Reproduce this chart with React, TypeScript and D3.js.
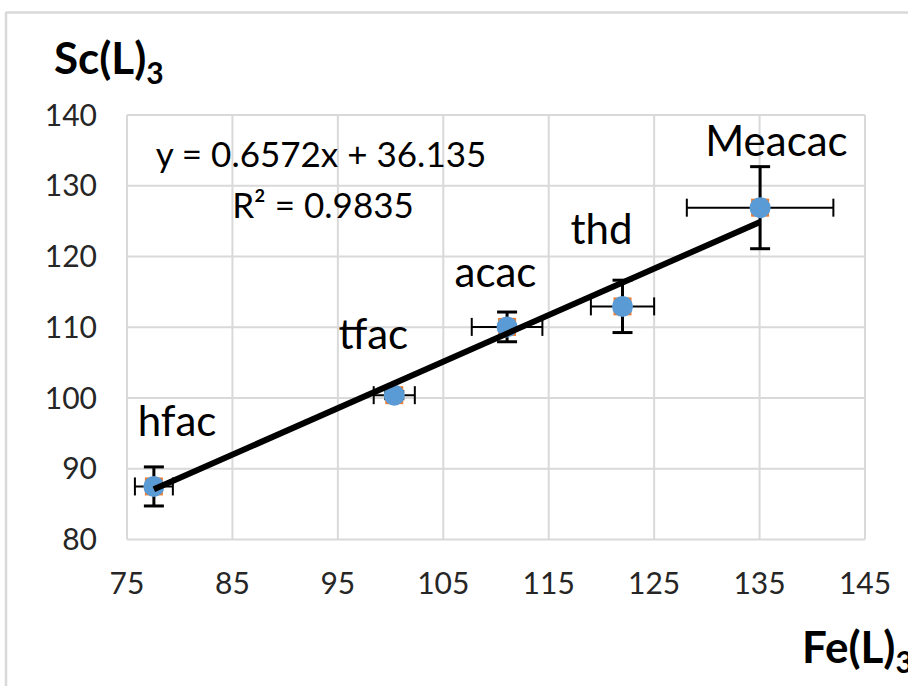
import React from "react";
import * as d3 from "d3";

const names = ["hfac", "tfac", "acac", "thd", "Meacac"];
const feValues = [77.55, 100.35, 111.05, 122.0, 135.05];
const scValues = [87.5, 100.4, 110.05, 112.95, 126.9];
const feErrors = [1.8, 1.95, 3.35, 3.0, 6.95];
const scErrors = [2.76, 0.5, 2.1, 3.7, 5.8];
// label anchor positions in data units (centre x, baseline y)
const labelFe = [79.75, 98.36, 109.95, 120.0, 136.6];
const labelSc = [94.57, 106.87, 115.64, 121.73, 134.17];
const xTicks = [75, 85, 95, 105, 115, 125, 135, 145];
const yTicks = [80, 90, 100, 110, 120, 130, 140];
const slope = 0.6572;
const intercept = 36.135;
const eqText = "y = 0.6572x + 36.135";
const r2Value = "0.9835";

const W = 908;
const H = 686;
const FONT = "Lato, 'Open Sans', sans-serif";

export default function App() {
  const x = d3.scaleLinear().domain([75, 145]).range([127, 865]);
  const y = d3.scaleLinear().domain([80, 140]).range([539.5, 115]);
  const grid = "#d9d9d9";
  const xMin = d3.min(feValues) as number;
  const xMax = d3.max(feValues) as number;
  const trend = d3.line<number>().x((v) => x(v)).y((v) => y(slope * v + intercept));

  return (
    <svg width={W} height={H} style={{ position: "absolute", left: 0, top: 0, background: "#fff" }}>
      <rect x={0} y={0} width={W} height={H} fill="#fff" />
      {/* outer chart border */}
      <line x1={6} y1={12.5} x2={W} y2={12.5} stroke={grid} strokeWidth={2.5} />
      <line x1={6} y1={12} x2={6} y2={H} stroke={grid} strokeWidth={2.5} />

      {/* gridlines */}
      {xTicks.map((t) => (
        <line key={"gx" + t} x1={x(t)} x2={x(t)} y1={y(140)} y2={y(80)} stroke={grid} strokeWidth={2} />
      ))}
      {yTicks.map((t) => (
        <line key={"gy" + t} x1={x(75)} x2={x(145)} y1={y(t)} y2={y(t)} stroke={grid} strokeWidth={2} />
      ))}

      {/* tick labels */}
      {yTicks.map((t) => (
        <text key={"ty" + t} x={97} y={y(t) + 10.5} textAnchor="end" fontFamily={FONT} fontSize={30} fill="#262626">
          {t}
        </text>
      ))}
      {xTicks.map((t) => (
        <text key={"tx" + t} x={x(t)} y={594} textAnchor="middle" fontFamily={FONT} fontSize={30} fill="#262626">
          {t}
        </text>
      ))}

      {/* error bars */}
      {feValues.map((fv, i) => {
        const cx = x(fv);
        const cy = y(scValues[i]);
        const x0 = x(fv - feErrors[i]);
        const x1 = x(fv + feErrors[i]);
        const y0 = y(scValues[i] - scErrors[i]);
        const y1 = y(scValues[i] + scErrors[i]);
        return (
          <g key={"e" + i} stroke="#000">
            <line x1={x0} x2={x1} y1={cy} y2={cy} strokeWidth={2} />
            <line x1={x0} x2={x0} y1={cy - 9} y2={cy + 9} strokeWidth={2} />
            <line x1={x1} x2={x1} y1={cy - 9} y2={cy + 9} strokeWidth={2} />
            <line x1={cx} x2={cx} y1={y0} y2={y1} strokeWidth={3} />
            <line x1={cx - 10} x2={cx + 10} y1={y0} y2={y0} strokeWidth={3} />
            <line x1={cx - 10} x2={cx + 10} y1={y1} y2={y1} strokeWidth={3} />
          </g>
        );
      })}

      {/* markers */}
      {feValues.map((fv, i) => (
        <g key={"m" + i}>
          <rect x={x(fv) - 9} y={y(scValues[i]) - 9} width={18} height={18} fill="#ED7D31" />
          <circle cx={x(fv)} cy={y(scValues[i])} r={10.5} fill="#5B9BD5" />
        </g>
      ))}

      {/* trendline */}
      <path d={trend([xMin, xMax]) || ""} stroke="#000" strokeWidth={6} fill="none" />

      {/* data labels */}
      {names.map((n, i) => (
        <text key={"l" + n} x={x(labelFe[i])} y={y(labelSc[i])} textAnchor="middle" fontFamily={FONT} fontSize={42} fill="#000">
          {n}
        </text>
      ))}

      {/* equation */}
      <text x={321} y={167} textAnchor="middle" fontFamily={FONT} fontSize={35} fill="#000">
        {eqText}
      </text>
      <text x={323} y={218} textAnchor="middle" fontFamily={FONT} fontSize={35} fill="#000">
        R² = {r2Value}
      </text>

      {/* axis titles */}
      <text x={54} y={74} fontFamily={FONT} fontSize={44} fontWeight="bold" fill="#000">
        Sc(L)
        <tspan fontSize={30} dy={10}>3</tspan>
      </text>
      <text x={802} y={663} fontFamily={FONT} fontSize={44} fontWeight="bold" fill="#000">
        Fe(L)
        <tspan fontSize={30} dy={10}>3</tspan>
      </text>
    </svg>
  );
}
